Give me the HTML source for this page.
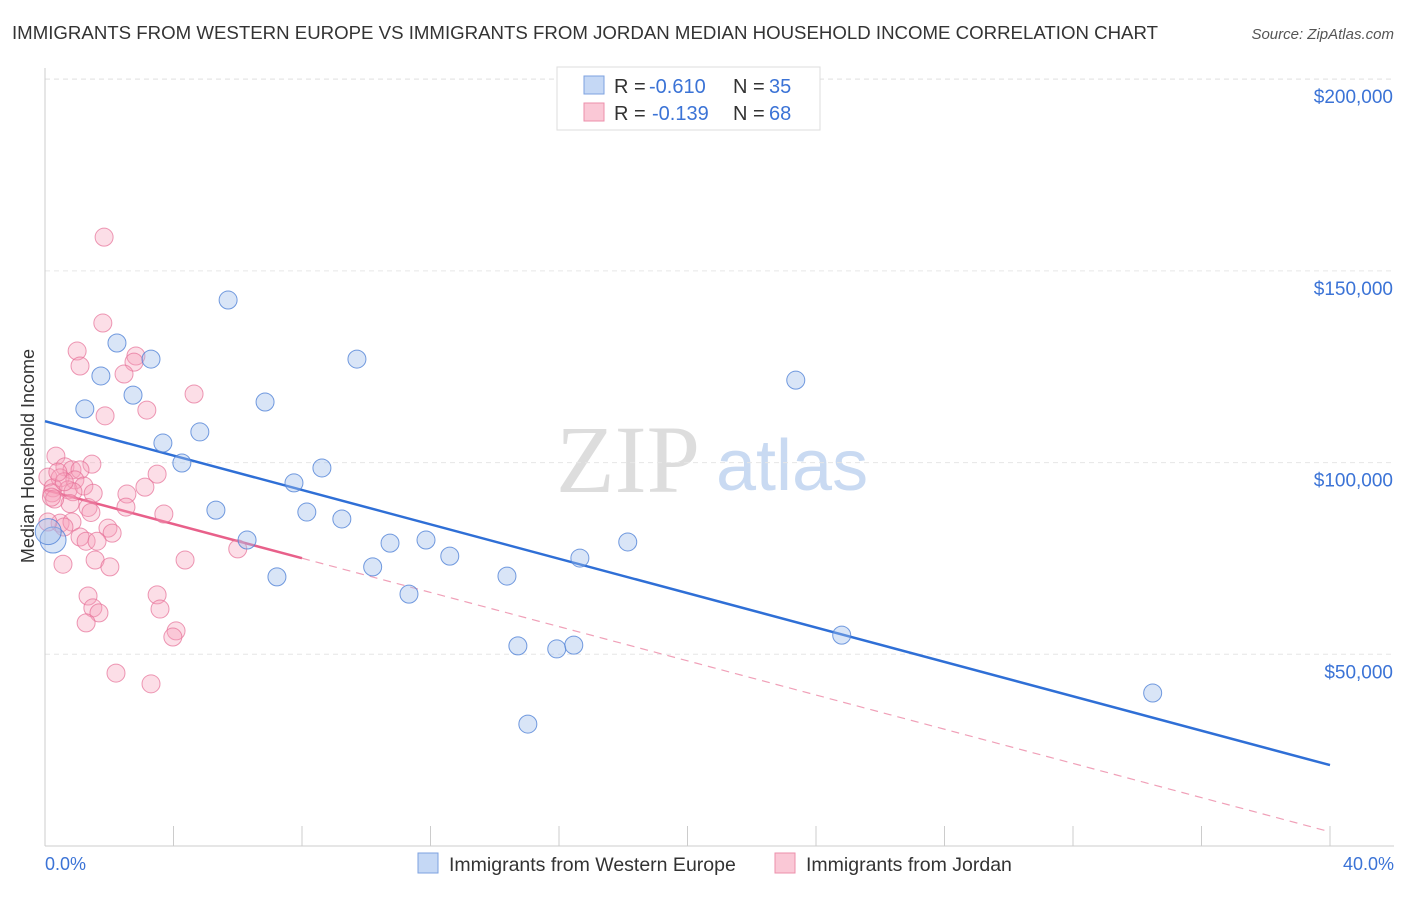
<!DOCTYPE html>
<html><head><meta charset="utf-8"><style>
body{margin:0;background:#fff;font-family:"Liberation Sans",sans-serif;}
svg text{font-family:"Liberation Sans",sans-serif;}
</style></head><body>
<svg id="c" width="1406" height="892" xmlns="http://www.w3.org/2000/svg">
<text x="12" y="39" font-size="18.5" fill="#333" textLength="1146" lengthAdjust="spacingAndGlyphs">IMMIGRANTS FROM WESTERN EUROPE VS IMMIGRANTS FROM JORDAN MEDIAN HOUSEHOLD INCOME CORRELATION CHART</text>
<text x="1394" y="39" font-size="15" fill="#555" font-style="italic" text-anchor="end">Source: ZipAtlas.com</text>
<text x="700" y="492" font-size="96" fill="#ddd" text-anchor="end" style="font-family:'Liberation Serif',serif">ZIP</text>
<text x="716" y="490" font-size="72" fill="#c9daf2">atlas</text>
<g id="grid"></g><g id="axes"></g><g id="lines"></g><g id="pts"></g>
<text transform="translate(34,456) rotate(-90)" font-size="18" fill="#333" text-anchor="middle">Median Household Income</text>
<text x="45" y="870" font-size="18" fill="#3b73d6">0.0%</text>
<text x="1394" y="870" font-size="18" fill="#3b73d6" text-anchor="end">40.0%</text>
<g font-size="20">
<rect x="557" y="67" width="263" height="63" fill="#fff" stroke="#ddd"/>
<rect x="584" y="76" width="20" height="18" fill="#c5d8f5" stroke="#7da2e0"/>
<rect x="584" y="103" width="20" height="18" fill="#fac8d6" stroke="#ec8fab"/>
<text x="614" y="93" fill="#333">R =</text><text x="649" y="93" fill="#3b73d6">-0.610</text>
<text x="733" y="93" fill="#333">N =</text><text x="769" y="93" fill="#3b73d6">35</text>
<text x="614" y="120" fill="#333">R =</text><text x="652" y="120" fill="#3b73d6">-0.139</text>
<text x="733" y="120" fill="#333">N =</text><text x="769" y="120" fill="#3b73d6">68</text>
</g>
<g>
<rect x="418" y="853" width="20" height="20" fill="#c5d8f5" stroke="#7da2e0"/>
<text x="449" y="871" font-size="19.5" fill="#333">Immigrants from Western Europe</text>
<rect x="775" y="853" width="20" height="20" fill="#fac8d6" stroke="#ec8fab"/>
<text x="806" y="871" font-size="19.5" fill="#333">Immigrants from Jordan</text>
</g>
</svg>
<script>
const yTicks=[50000,100000,150000,200000];
const yTickLabels=["$50,000","$100,000","$150,000","$200,000"];
const xTicks=[0,4,8,12,16,20,24,28,32,36,40];
const blueX=[5.7,2.24,3.3,9.71,1.74,23.37,2.74,6.85,1.24,3.67,4.82,4.26,8.62,7.75,5.32,8.15,9.24,6.29,10.74,11.86,12.6,18.14,16.65,10.2,7.22,14.38,11.33,14.72,15.93,16.46,24.8,15.03,34.48,0.25,0.1];
const blueY=[142.4,131.2,127,127,122.6,121.5,117.6,115.8,114,105.1,108,99.9,98.6,94.7,87.6,87.1,85.3,79.8,79,79.8,75.6,79.3,75.1,72.8,70.2,70.4,65.7,52.2,51.4,52.4,55,31.8,39.9,79.8,82];
const pinkX=[1.84,1.8,1,2.83,1.09,2.77,2.46,4.64,3.17,1.87,0.34,1.46,0.62,0.84,1.09,3.49,0.09,0.47,0.93,0.25,0.72,1.21,3.11,0.22,0.87,2.55,0.78,1.34,1.43,3.7,2.52,0.47,0.84,1.96,2.09,0.59,0.09,1.09,1.28,1.62,6.0,0.56,1.56,2.02,4.36,1.34,3.49,1.49,1.68,3.58,1.28,4.08,3.98,2.21,3.3,0.3,0.6,1.5,0.4,0.2];
const pinkY=[158.8,136.4,129.1,127.8,125.2,126.2,123.1,117.9,113.7,112.2,101.7,99.6,98.9,98.1,98.1,97,96.2,96,95.5,93.4,92.9,93.9,93.6,92.1,92.4,91.8,89.3,88.3,87,86.6,88.4,84.2,84.5,82.9,81.6,83.2,84.5,80.6,79.5,79.5,77.5,73.5,74.6,72.8,74.6,65.2,65.5,62.1,60.8,61.8,58.2,56.1,54.5,45.1,42.3,90.5,95,92,97.5,91];
const blueTrend=[110.8,21.1];
const pinkTrend=[92.9,3.7];
const pinkSolidEnd=8;
const X=v=>45+v*32.125, Y=v=>846-v*3.834;
const NS="http://www.w3.org/2000/svg";
function mk(parent,tag,attrs){const e=document.createElementNS(NS,tag);for(const k in attrs)e.setAttribute(k,attrs[k]);document.getElementById(parent).appendChild(e);return e;}
yTicks.forEach((t,i)=>{
 const g=mk('grid','line',{x1:45,x2:1394,y1:Y(t/1000),y2:Y(t/1000),stroke:'#e6e6e6','stroke-dasharray':'5,4'});
 
 
 const tx=mk('grid','text',{x:1393,y:Y(t/1000)+24,'font-size':19,fill:'#3b73d6','text-anchor':'end'});
 tx.textContent=yTickLabels[i];
 
 
});
const tg=mk('grid','line',{x1:45,x2:1394,y1:79,y2:79,stroke:'#e6e6e6','stroke-dasharray':'5,4'});


const ya=mk('axes','line',{x1:45,x2:45,y1:68,y2:846,stroke:'#ccc'});


const xa=mk('axes','line',{x1:45,x2:1394,y1:846,y2:846,stroke:'#ccc'});


xTicks.forEach(t=>{const l=mk('axes','line',{x1:X(t),x2:X(t),y1:826,y2:846,stroke:'#ccc'});
 
 });
pinkX.forEach((x,i)=>{const c=mk('pts','circle',{cx:X(x),cy:Y(pinkY[i]),r:9,fill:'rgba(245,160,185,0.35)',stroke:'rgba(230,110,150,0.7)','stroke-width':1});
 
 });
blueX.forEach((x,i)=>{const c=mk('pts','circle',{cx:X(x),cy:Y(blueY[i]),r:i>=33?13:9,fill:'rgba(160,190,235,0.4)',stroke:'rgba(80,130,215,0.8)','stroke-width':1});
 
 });
const bl=mk('lines','line',{x1:X(0),y1:Y(blueTrend[0]),x2:X(40),y2:Y(blueTrend[1]),stroke:'#2f6fd6','stroke-width':2.5});


const py=x=>pinkTrend[0]+(pinkTrend[1]-pinkTrend[0])*x/40;
const pd=mk('lines','line',{x1:X(pinkSolidEnd),y1:Y(py(pinkSolidEnd)),x2:X(40),y2:Y(pinkTrend[1]),stroke:'#f0a0b8','stroke-width':1.2,'stroke-dasharray':'8,6'});


const ps=mk('lines','line',{x1:X(0),y1:Y(pinkTrend[0]),x2:X(pinkSolidEnd),y2:Y(py(pinkSolidEnd)),stroke:'#e8608a','stroke-width':2.5});


</script>
</body></html>
